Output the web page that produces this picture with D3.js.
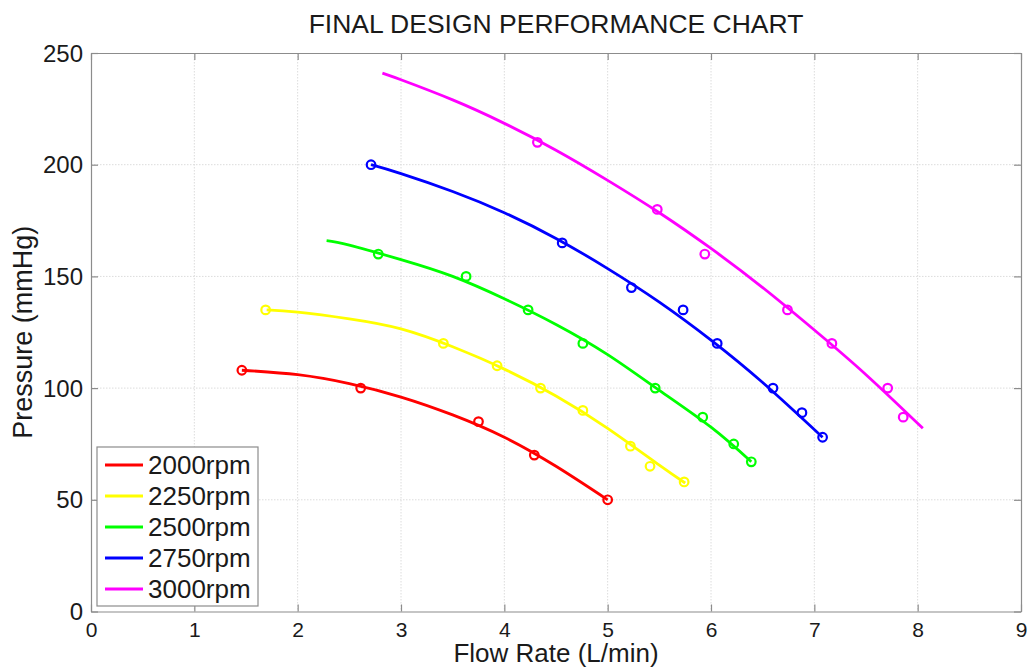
<!DOCTYPE html>
<html>
  <head>
    <meta charset="utf-8">
    <style>
      body { margin: 0; background: #fff; }
      svg { font-family: "Liberation Sans", Arial, sans-serif; }
      .grid line { stroke: #dcdcdc; stroke-width: 1px; stroke-dasharray: 1.5,1.5; }
    </style>
  </head>
  <body>
    <script src="https://d3js.org/d3.v7.min.js"></script>
    <script>
    // series names and colours
    var speeds = ["2000rpm", "2250rpm", "2500rpm", "2750rpm", "3000rpm"];
    var colors = ["#ff0000", "#ffff00", "#00ff00", "#0000ff", "#ff00ff"];

    // measured points (circles)
    var flow2000 = [1.46, 2.61, 3.75, 4.29, 5.0];
    var pres2000 = [108, 100, 85, 70, 50];
    var flow2250 = [1.69, 3.41, 3.93, 4.35, 4.76, 5.22, 5.41, 5.74];
    var pres2250 = [135, 120, 110, 100, 90, 74, 65, 58];
    var flow2500 = [2.78, 3.63, 4.23, 4.76, 5.46, 5.92, 6.22, 6.39];
    var pres2500 = [160, 150, 135, 120, 100, 87, 75, 67];
    var flow2750 = [2.71, 4.56, 5.23, 5.73, 6.06, 6.60, 6.88, 7.08];
    var pres2750 = [200, 165, 145, 135, 120, 100, 89, 78];
    var flow3000 = [4.32, 5.48, 5.94, 6.74, 7.17, 7.71, 7.86];
    var pres3000 = [210, 180, 160, 135, 120, 100, 87];

    // fitted curves
    var fitFlow2000 = [1.46, 2, 2.5, 3, 3.5, 4, 4.5, 5];
    var fitPres2000 = [108, 106, 102, 96, 88, 78, 65, 50];
    var fitFlow2250 = [1.7, 2, 2.5, 3, 3.5, 4, 4.5, 5, 5.5, 5.75];
    var fitPres2250 = [135, 134, 131, 126.5, 118.5, 108.5, 96.5, 82, 65.5, 57.5];
    var fitFlow2500 = [2.28, 2.5, 3, 3.5, 4, 4.5, 5, 5.5, 6, 6.39];
    var fitPres2500 = [166, 164, 157.5, 150, 140, 128.5, 115, 99, 82.5, 67];
    var fitFlow2750 = [2.71, 3, 3.5, 4, 4.5, 5, 5.5, 6, 6.5, 7.08];
    var fitPres2750 = [200, 196, 188, 178.5, 167, 153.5, 138.5, 121.5, 102.5, 78];
    var fitFlow3000 = [2.82, 3, 3.5, 4, 4.5, 5, 5.5, 6, 6.5, 7, 7.5, 8.05];
    var fitPres3000 = [241, 238, 229, 218.5, 206.5, 193, 178.5, 162.5, 145, 126, 106, 82];

    var xTicks = [0, 1, 2, 3, 4, 5, 6, 7, 8, 9];
    var yTicks = [0, 50, 100, 150, 200, 250];

    var zip = function(xs, ys) { return xs.map(function(v, i) { return [v, ys[i]]; }); };
    var points = [
      zip(flow2000, pres2000), zip(flow2250, pres2250), zip(flow2500, pres2500),
      zip(flow2750, pres2750), zip(flow3000, pres3000)
    ];
    var fits = [
      zip(fitFlow2000, fitPres2000), zip(fitFlow2250, fitPres2250), zip(fitFlow2500, fitPres2500),
      zip(fitFlow2750, fitPres2750), zip(fitFlow3000, fitPres3000)
    ];

    var width = 1035, height = 672;
    var plotL = 91, plotT = 53, plotR = 1021, plotB = 611.5;

    var svg = d3.select("body").append("svg")
        .attr("width", width)
        .attr("height", height);

    var x = d3.scaleLinear().domain([0, 9]).range([plotL, plotR]);
    var y = d3.scaleLinear().domain([0, 250]).range([plotB, plotT]);

    // grid
    var grid = svg.append("g").attr("class", "grid");
    grid.selectAll(".gx").data(xTicks.slice(1, -1)).enter().append("line")
        .attr("x1", function(d) { return x(d); }).attr("x2", function(d) { return x(d); })
        .attr("y1", plotT).attr("y2", plotB);
    grid.selectAll(".gy").data(yTicks.slice(1, -1)).enter().append("line")
        .attr("y1", function(d) { return y(d); }).attr("y2", function(d) { return y(d); })
        .attr("x1", plotL).attr("x2", plotR);

    // axes, ticks inward on all four sides
    var axisColor = "#8c8c8c";
    var bottomAxis = svg.append("g").attr("transform", "translate(0," + plotB + ")")
        .call(d3.axisBottom(x).tickValues(xTicks).tickSizeInner(-7).tickSizeOuter(0).tickPadding(11));
    var leftAxis = svg.append("g").attr("transform", "translate(" + plotL + ",0)")
        .call(d3.axisLeft(y).tickValues(yTicks).tickSizeInner(-7).tickSizeOuter(0).tickPadding(8));
    var topAxis = svg.append("g").attr("transform", "translate(0," + plotT + ")")
        .call(d3.axisTop(x).tickValues(xTicks).tickSizeInner(-7).tickSizeOuter(0).tickFormat(""));
    var rightAxis = svg.append("g").attr("transform", "translate(" + plotR + ",0)")
        .call(d3.axisRight(y).tickValues(yTicks).tickSizeInner(-7).tickSizeOuter(0).tickFormat(""));

    [bottomAxis, leftAxis, topAxis, rightAxis].forEach(function(a) {
      a.select(".domain").attr("stroke", axisColor).attr("stroke-width", 1.2);
      a.selectAll(".tick line").attr("stroke", axisColor).attr("stroke-width", 1.2);
      a.selectAll("text").attr("fill", "#1a1a1a").style("font-family", "Liberation Sans, Arial, sans-serif");
    });
    bottomAxis.selectAll("text").style("font-size", "21px");
    leftAxis.selectAll("text").style("font-size", "24px").attr("dy", "0.34em");

    // fitted curves
    var line = d3.line()
        .x(function(d) { return x(d[0]); })
        .y(function(d) { return y(d[1]); })
        .curve(d3.curveNatural);

    svg.append("g").selectAll("path").data(fits).enter().append("path")
        .attr("d", line)
        .attr("fill", "none")
        .attr("stroke", function(d, i) { return colors[i]; })
        .attr("stroke-width", 2.8);

    // measured points
    points.forEach(function(pts, i) {
      svg.append("g").selectAll("circle").data(pts).enter().append("circle")
          .attr("cx", function(d) { return x(d[0]); })
          .attr("cy", function(d) { return y(d[1]); })
          .attr("r", 4.3)
          .attr("fill", "none")
          .attr("stroke", colors[i])
          .attr("stroke-width", 2.2);
    });

    // title and axis labels
    svg.append("text")
        .attr("x", (plotL + plotR) / 2).attr("y", 33)
        .attr("text-anchor", "middle")
        .style("font-size", "26.5px").attr("fill", "#1a1a1a")
        .text("FINAL DESIGN PERFORMANCE CHART");

    svg.append("text")
        .attr("x", (plotL + plotR) / 2).attr("y", 662)
        .attr("text-anchor", "middle")
        .style("font-size", "26px").attr("fill", "#1a1a1a")
        .text("Flow Rate (L/min)");

    svg.append("text")
        .attr("transform", "translate(32," + ((plotT + plotB) / 2) + ") rotate(-90)")
        .attr("text-anchor", "middle")
        .style("font-size", "27px").attr("fill", "#1a1a1a")
        .text("Pressure (mmHg)");

    // legend
    var legend = svg.append("g").attr("transform", "translate(97,447)");
    legend.append("rect")
        .attr("width", 161).attr("height", 159)
        .attr("fill", "#fff").attr("stroke", axisColor).attr("stroke-width", 1.2);
    var item = legend.selectAll(".item").data(speeds).enter().append("g")
        .attr("transform", function(d, i) { return "translate(0," + (18 + i * 31) + ")"; });
    item.append("line")
        .attr("x1", 8).attr("x2", 46)
        .attr("stroke", function(d, i) { return colors[i]; })
        .attr("stroke-width", 2.8);
    item.append("text")
        .attr("x", 51).attr("dy", "0.35em")
        .style("font-size", "26px").attr("fill", "#1a1a1a")
        .text(function(d) { return d; });
    </script>
  </body>
</html>
